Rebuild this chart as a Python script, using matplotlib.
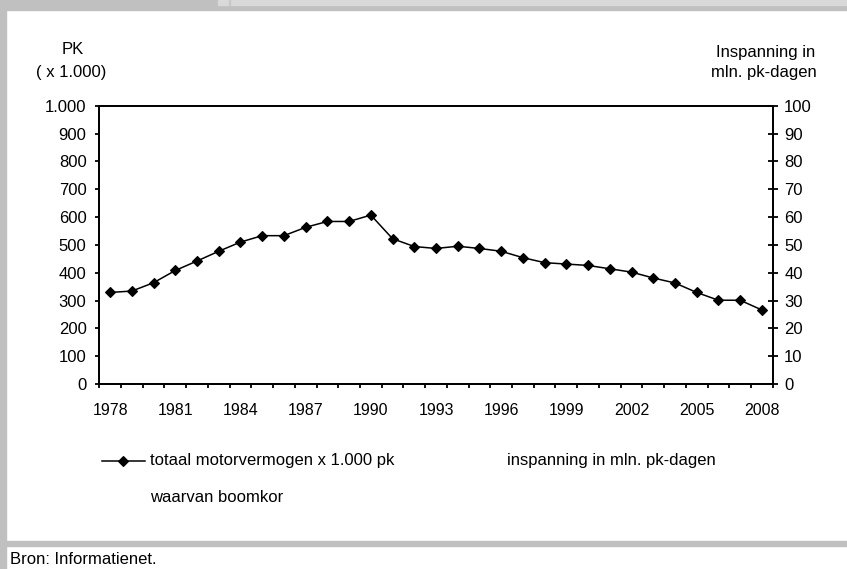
import numpy as np
import matplotlib
matplotlib.use("Agg")
from matplotlib import pyplot as plt
from matplotlib.lines import Line2D
from matplotlib.patches import Rectangle

plt.rcParams['font.family'] = ['Liberation Sans', 'DejaVu Sans']

# data
years = list(range(1978, 2009))
motorvermogen = [329, 334, 364, 408, 442, 477, 510, 533, 533, 563, 584, 584, 607,
                 522, 494, 487, 495, 487, 477, 454, 436, 431, 426, 414, 402, 381,
                 363, 329, 301, 301, 266]
left_ticks = [0, 100, 200, 300, 400, 500, 600, 700, 800, 900, 1000]
left_labels = ['0', '100', '200', '300', '400', '500', '600', '700', '800', '900', '1.000']
right_ticks = [0, 10, 20, 30, 40, 50, 60, 70, 80, 90, 100]
year_labels = ['1978', '1981', '1984', '1987', '1990', '1993', '1996', '1999', '2002', '2005', '2008']

W, H = 847, 569
fig = plt.figure(figsize=(W / 100, H / 100), dpi=100)

def fx(x):  # pixel -> figure fraction
    return x / W

def fy(y):
    return 1 - y / H

gray = '#c0c0c0'
# frame pieces around the chart
fig.patches.append(Rectangle((0, fy(10)), 1, 10 / H, transform=fig.transFigure, color=gray, zorder=0))
fig.patches.append(Rectangle((fx(218), fy(5)), 1, 5 / H, transform=fig.transFigure, color='#d9d9d9', zorder=1))
fig.patches.append(Rectangle((fx(229), fy(5)), 1 / W, 5 / H, transform=fig.transFigure, color='#c8c8c8', zorder=2))
fig.patches.append(Rectangle((0, 0), 6 / W, fy(10), transform=fig.transFigure, color=gray, zorder=0))
fig.patches.append(Rectangle((0, fy(546)), 1, 5 / H, transform=fig.transFigure, color=gray, zorder=0))

left, right, top, bottom = 99.3, 772.7, 105.7, 384
ax = fig.add_axes([fx(left), fy(bottom), (right - left) / W, (bottom - top) / H])

x = np.arange(len(years))
ax.plot(x, motorvermogen, color='black', lw=1.1, marker='D', ms=5.5, mew=0.8, mfc='black', zorder=3)

ax.set_xlim(-0.5, len(years) - 0.5)
ax.set_ylim(0, 1000)
ax.set_yticks(left_ticks)
ax.set_yticklabels(left_labels)
ax.set_xticks([years.index(int(y)) for y in year_labels])
ax.set_xticklabels(year_labels)
ax.set_xticks(np.arange(-0.5, len(years)), minor=True)
ax.tick_params(axis='x', which='major', length=0, pad=14, labelsize=11.5)
ax.tick_params(axis='x', which='minor', length=3.2, width=1.3, direction='out')
ax.tick_params(axis='y', length=3.2, width=1.3, pad=6, labelsize=12)
for s in ax.spines.values():
    s.set_linewidth(1.3)

ax2 = ax.twinx()
ax2.set_ylim(0, 100)
ax2.set_yticks(right_ticks)
ax2.tick_params(axis='y', direction='inout', length=6.5, width=1.3, pad=5, labelsize=12)
for s in ax2.spines.values():
    s.set_linewidth(1.3)

# axis titles
fig.text(fx(73), fy(49), 'PK', ha='center', va='center', fontsize=12)
fig.text(fx(71), fy(72), '( x 1.000)', ha='center', va='center', fontsize=12)
fig.text(fx(766), fy(52), 'Inspanning in', ha='center', va='center', fontsize=12)
fig.text(fx(764), fy(73), 'mln. pk-dagen', ha='center', va='center', fontsize=12)

# legend
fig.add_artist(Line2D([fx(102), fx(145)], [fy(461), fy(461)], transform=fig.transFigure,
                      color='black', lw=1.1))
fig.add_artist(Line2D([fx(123)], [fy(461)], transform=fig.transFigure, color='black',
                      marker='D', ms=5.5, mew=0.8))
fig.text(fx(150), fy(461), 'totaal motorvermogen x 1.000 pk', ha='left', va='center', fontsize=12)
fig.text(fx(507), fy(461), 'inspanning in mln. pk-dagen', ha='left', va='center', fontsize=12)
fig.text(fx(150), fy(497), 'waarvan boomkor', ha='left', va='center', fontsize=12)

fig.text(fx(10), fy(560), 'Bron: Informatienet.', ha='left', va='center', fontsize=12)

fig.savefig('out.png', dpi=100)
